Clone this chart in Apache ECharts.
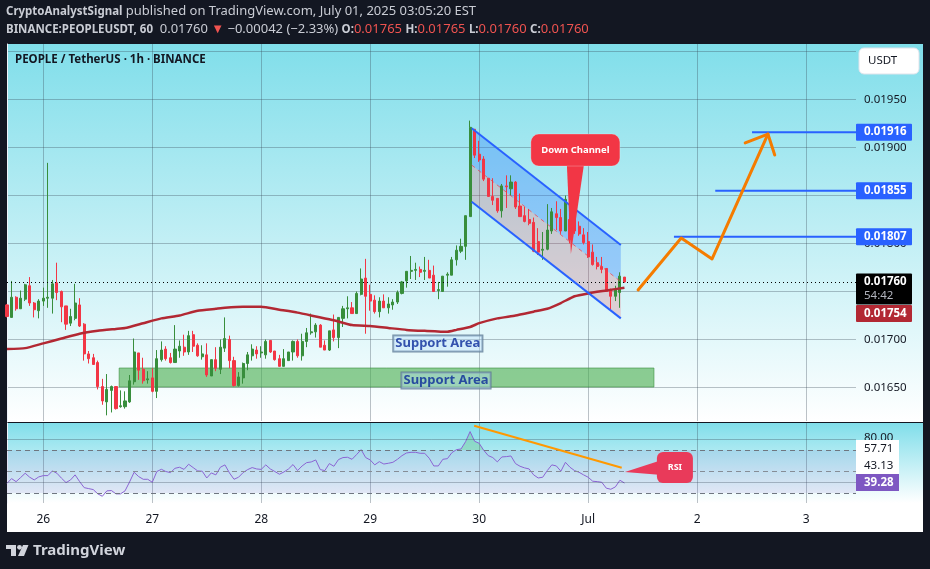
<!DOCTYPE html>
<html>
<head>
<meta charset="utf-8">
<title>PEOPLE / TetherUS</title>
<script src="https://cdn.jsdelivr.net/npm/echarts@6/dist/echarts.min.js"></script>
<style>
html, body { margin: 0; padding: 0; background: #131722; }
#main {
    width: 930px; height: 569px;
    background:
        linear-gradient(#80deea, #ffffff) 7px 44px / 916px 378px no-repeat,
        linear-gradient(#80deea, #ffffff) 7px 423px / 916px 80px no-repeat,
        linear-gradient(#ffffff, #ffffff) 7px 503px / 916px 29px no-repeat;
}
</style>
</head>
<body>
<div id="main"></div>
<script>
// prices are in units of 0.00001 (1760 = 0.01760), one value per hourly bar
var opens = [
    1736,1723,1744,1732,1742,1756,1738,1730,1740,1743,
    1743,1759,1750,1735,1717,1722,1736,1716,1685,1681,
    1676,1651,1635,1647,1651,1630,1630,1635,1656,1686,
    1669,1658,1660,1646,1679,1690,1681,1676,1688,1692,
    1687,1705,1694,1682,1684,1662,1679,1669,1691,1700,
    1678,1652,1660,1675,1683,1689,1686,1684,1699,1688,
    1680,1672,1678,1687,1698,1683,1698,1707,1708,1715,
    1694,1689,1710,1702,1722,1732,1733,1727,1747,1764,
    1747,1741,1729,1740,1733,1736,1739,1748,1761,1771,
    1772,1773,1771,1772,1767,1751,1750,1767,1767,1783,
    1792,1797,1828,1919,1893,1888,1868,1849,1847,1834,
    1860,1857,1864,1839,1829,1825,1822,1802,1793,1794,
    1813,1831,1827,1813,1825,1829,1818,1809,1802,1791,
    1780,1776,1774,1752,1745,1749,1765
];
var highs = [
    1737,1761,1745,1751,1758,1765,1739,1742,1754,1884,
    1762,1780,1751,1735,1732,1758,1743,1717,1688,1685,
    1678,1659,1664,1652,1651,1647,1646,1663,1701,1686,
    1681,1667,1670,1689,1698,1693,1686,1715,1699,1705,
    1709,1709,1696,1694,1696,1679,1692,1700,1723,1704,
    1682,1666,1676,1687,1695,1693,1693,1700,1699,1688,
    1684,1690,1687,1699,1700,1706,1712,1727,1717,1716,
    1699,1709,1726,1723,1735,1745,1739,1750,1774,1784,
    1757,1746,1744,1747,1744,1742,1751,1761,1771,1787,
    1780,1776,1786,1783,1777,1760,1766,1770,1786,1798,
    1805,1829,1928,1919,1907,1891,1868,1868,1847,1862,
    1871,1871,1865,1852,1838,1836,1827,1816,1812,1841,
    1837,1844,1836,1850,1832,1835,1823,1816,1812,1799,
    1786,1786,1774,1753,1756,1770,1765
];
var lows = [
    1723,1723,1730,1732,1740,1735,1723,1722,1735,1733,
    1727,1741,1718,1710,1714,1720,1713,1678,1675,1674,
    1648,1632,1621,1624,1627,1629,1628,1634,1653,1658,
    1654,1654,1645,1639,1677,1678,1675,1676,1681,1683,
    1684,1687,1682,1679,1661,1662,1667,1664,1687,1670,
    1651,1651,1654,1668,1678,1680,1681,1680,1686,1678,
    1672,1672,1678,1678,1681,1678,1692,1705,1702,1692,
    1689,1688,1698,1691,1713,1722,1727,1727,1746,1706,
    1730,1727,1723,1733,1727,1731,1737,1747,1754,1763,
    1762,1765,1762,1764,1750,1742,1750,1755,1767,1777,
    1790,1783,1828,1889,1885,1865,1849,1840,1832,1827,
    1837,1850,1836,1828,1822,1819,1791,1788,1783,1793,
    1810,1814,1810,1813,1800,1810,1808,1799,1785,1777,
    1773,1769,1750,1731,1740,1733,1759
];
var closes = [
    1724,1744,1732,1743,1757,1738,1731,1740,1743,1744,
    1758,1749,1734,1716,1724,1738,1714,1685,1680,1674,
    1651,1636,1648,1651,1628,1631,1636,1657,1687,1668,
    1657,1659,1646,1680,1689,1680,1676,1690,1693,1687,
    1704,1693,1683,1685,1663,1679,1670,1692,1701,1678,
    1652,1661,1675,1684,1690,1685,1687,1698,1687,1679,
    1672,1680,1687,1698,1683,1698,1707,1708,1715,1692,
    1689,1709,1702,1723,1732,1733,1727,1748,1763,1745,
    1740,1729,1740,1733,1737,1739,1749,1760,1771,1772,
    1773,1770,1772,1764,1750,1752,1766,1768,1783,1793,
    1797,1829,1921,1892,1887,1867,1849,1845,1834,1860,
    1859,1864,1838,1828,1823,1821,1792,1791,1794,1814,
    1833,1827,1813,1846,1804,1813,1810,1801,1786,1778,
    1776,1773,1750,1745,1752,1766,1760
];
var rsiValues = [
    39,43.4,40.6,44.4,48.4,44.7,42.2,45,46.2,46.2,
    50.6,48.4,43.8,39.7,42.2,46.9,40.6,35,34.1,33.2,
    29.2,27,32,32.3,29.2,29.2,32,40.3,49.3,45.3,
    42.8,42.8,40,50,52.1,50,49,53,54,52,
    56.8,53.7,50.6,50.3,44,48.7,46.9,54,56.2,48.7,
    42.8,44.7,49,51.8,53.7,52.4,52,56.2,52.4,50,
    47.5,49.6,52.4,56.5,50.9,55.2,58.3,58.9,60.8,51.8,
    50.9,57.4,54.9,61.1,63,63.3,61.4,65.8,70.4,63,
    60.8,56.2,59.2,57,57.7,58.6,61.4,64.8,67.3,67.9,
    67.9,67,67,62.4,55.2,55.2,61.4,62,67.6,70.4,
    71,77.8,87.2,78.2,76.3,69.8,64.8,63,59,63.6,
    63.9,64.5,57.4,54.9,53.4,52.4,46.9,44,44.7,50.9,
    56.2,55.2,50.3,58.6,54,50.9,49.3,46.9,44.7,41,
    40.6,40,34.5,33.5,35.7,41.9,39.3
];
// moving average read at these bars
var maBars = [0,4,8,12,16,20,24,26,30,34,38,42,46,48,52,56,60,64,68,72,76,80,84,88,92,97,99,102,104,108,112,116,119,122,125,128,132,136];
var maValues = [1690,1691,1696,1701,1706,1709,1711,1712,1717,1722,1725,1730,1732,1733,1734,1734,1731,1728,1724,1720,1715,1714,1712,1710,1709,1708,1710,1713,1717,1722,1725,1729,1732,1738,1745,1748,1751,1754];

var dayLabels = {8: '26', 32: '27', 56: '28', 80: '29', 104: '30', 128: 'Jul', 152: '2', 176: '3'};
var barCount = 188;

// drawings on the chart, bar position then price
var channelUpper = [[102.35, 1920], [135.2, 1798.4]];
var channelMiddle = [[102.35, 1881.7], [135.2, 1760.2]];
var channelLower = [[102.35, 1843.5], [135.2, 1722]];
var supportZone = [[24.7, 1670.3], [142.5, 1650.5]];
var levelPrices = [1916, 1855, 1807];
var levelStarts = [164.1, 156, 146.9];
var arrowPath = [[139, 1751.6], [148.5, 1805.7], [155.3, 1783.9], [167.6, 1914]];
var arrowHead = [[162.6, 1904.7], [167.6, 1914], [169.1, 1892.2]];
var supportLabels = [[94.9, 1695.8], [96.7, 1657.3]];
var channelTip = [124.2, 1789];
var rsiTip = [136.1, 49.6];
var rsiTrend = [[102.9, 92.7], [135.4, 53.6]];
var rsiOverbought = [[99, 70.4], [100, 71], [101, 77.8], [102, 87.2], [103, 78.2], [104, 76.3], [105, 70]];

// the MA tag sits stacked under the last price tag, not on its own price
var maTagPosition = 1727;

var categories = [];
for (var i = 0; i < barCount; i++) {
    categories.push(dayLabels[i] || '');
}
var candles = opens.map(function (o, i) {
    return [o, closes[i], lows[i], highs[i]];
});
var maLine = maBars.map(function (b, i) {
    return [b, maValues[i]];
});

var FONT = '"Noto Sans", sans-serif';
var GRID_COLOR = 'rgba(55,70,85,0.33)';
var BLUE = '#2962ff';
var ORANGE = '#f57c00';
var RED = '#f23645';

function hasLabel(index, value) {
    return value !== '';
}

function priceText(v) {
    return (v / 100000).toFixed(5);
}

function overlay(data, renderItem, z, grid) {
    return {
        type: 'custom',
        xAxisIndex: grid ? 3 : 2,
        yAxisIndex: grid ? 1 : 0,
        coordinateSystem: 'cartesian2d',
        silent: true,
        z: z,
        clip: false,
        data: data,
        renderItem: renderItem
    };
}

function priceTag(api, value, text, color, extra) {
    var c = api.coord([187, value]);
    var h = extra ? 31 : 17;
    var top = c[1] - 8.5;
    var kids = [
        {type: 'rect', shape: {x: c[0], y: top, width: 56, height: h, r: 1}, style: {fill: color}},
        {type: 'text', style: {text: text, x: c[0] + 8, y: c[1], fill: '#ffffff', font: 'bold 11.5px ' + FONT, align: 'left', verticalAlign: 'middle'}}
    ];
    if (extra) {
        kids.push({type: 'text', style: {text: extra, x: c[0] + 8, y: c[1] + 14, fill: '#b2b5be', font: '11.5px ' + FONT, align: 'left', verticalAlign: 'middle'}});
    }
    return kids;
}

var chart = echarts.init(document.getElementById('main'), null, {renderer: 'canvas'});

var series = [
    overlay([0], function (params, api) {
        var a = api.coord(supportZone[0]);
        var b = api.coord(supportZone[1]);
        return {type: 'rect', shape: {x: a[0], y: a[1], width: b[0] - a[0], height: b[1] - a[1]},
            style: {fill: 'rgba(76,175,80,0.62)', stroke: 'rgba(56,142,60,0.6)', lineWidth: 1}};
    }, 1),
    overlay([0], function (params, api) {
        var u0 = api.coord(channelUpper[0]), u1 = api.coord(channelUpper[1]);
        var m0 = api.coord(channelMiddle[0]), m1 = api.coord(channelMiddle[1]);
        var l0 = api.coord(channelLower[0]), l1 = api.coord(channelLower[1]);
        return {type: 'group', children: [
            {type: 'polygon', shape: {points: [u0, u1, m1, m0]}, style: {fill: 'rgba(41,121,255,0.33)'}},
            {type: 'polygon', shape: {points: [m0, m1, l1, l0]}, style: {fill: 'rgba(242,54,69,0.2)'}}
        ]};
    }, 1),
    {
        type: 'candlestick',
        name: 'PEOPLEUSDT',
        xAxisIndex: 0,
        yAxisIndex: 0,
        z: 3,
        barWidth: 2.6,
        data: candles,
        itemStyle: {color: '#388e3c', color0: RED, borderColor: '#388e3c', borderColor0: RED, borderWidth: 1},
        markLine: {
            silent: true,
            symbol: 'none',
            animation: false,
            label: {show: false},
            lineStyle: {color: '#000000', type: [1, 3], width: 1},
            data: [{yAxis: closes[closes.length - 1]}]
        }
    },
    {
        type: 'line',
        name: 'MA',
        xAxisIndex: 2,
        yAxisIndex: 0,
        z: 4,
        smooth: 0.15,
        showSymbol: false,
        silent: true,
        data: maLine,
        lineStyle: {color: '#b22833', width: 2.5}
    },
    overlay([0], function (params, api) {
        var u0 = api.coord(channelUpper[0]), u1 = api.coord(channelUpper[1]);
        var m0 = api.coord(channelMiddle[0]), m1 = api.coord(channelMiddle[1]);
        var l0 = api.coord(channelLower[0]), l1 = api.coord(channelLower[1]);
        return {type: 'group', children: [
            {type: 'line', shape: {x1: m0[0], y1: m0[1], x2: m1[0], y2: m1[1]}, style: {stroke: RED, lineWidth: 1, lineDash: [4, 4], opacity: 0.7}},
            {type: 'line', shape: {x1: u0[0], y1: u0[1], x2: u1[0], y2: u1[1]}, style: {stroke: BLUE, lineWidth: 2}},
            {type: 'line', shape: {x1: l0[0], y1: l0[1], x2: l1[0], y2: l1[1]}, style: {stroke: BLUE, lineWidth: 2}}
        ]};
    }, 5)
];

levelPrices.forEach(function (p, i) {
    series.push({
        type: 'line', xAxisIndex: 2, yAxisIndex: 0, z: 5, showSymbol: false, silent: true,
        data: [[levelStarts[i], p], [187, p]],
        lineStyle: {color: BLUE, width: 2}
    });
});

[arrowPath, arrowHead].forEach(function (path) {
    series.push({
        type: 'line', xAxisIndex: 2, yAxisIndex: 0, z: 6, showSymbol: false, silent: true,
        data: path,
        lineStyle: {color: ORANGE, width: 3, cap: 'round', join: 'round'}
    });
});

// support area captions
series.push({
    type: 'scatter', xAxisIndex: 2, yAxisIndex: 0, z: 7, symbolSize: 0, silent: true,
    data: supportLabels,
    label: {
        show: true,
        position: 'inside',
        formatter: 'Support Area',
        color: '#0a2a9a',
        fontFamily: FONT,
        fontSize: 13,
        fontWeight: 'bold',
        backgroundColor: 'rgba(187,222,251,0.45)',
        borderColor: '#5b7791',
        borderWidth: 1,
        padding: [2, 2, 1, 2]
    }
});

// red callout pointing down into the channel
series.push(overlay([0], function (params, api) {
    var t = api.coord(channelTip);
    return {type: 'group', children: [
        {type: 'polygon', shape: {points: [[t[0] - 4, t[1] - 89], [t[0] + 13, t[1] - 89], t]}, style: {fill: RED}},
        {type: 'rect', shape: {x: t[0] - 40, y: t[1] - 120, width: 89, height: 32, r: 8}, style: {fill: RED, stroke: 'rgba(255,255,255,0.25)', lineWidth: 1}},
        {type: 'text', style: {text: 'Down Channel', x: t[0] + 4.5, y: t[1] - 104, fill: '#ffffff', font: 'bold 9.5px ' + FONT, align: 'center', verticalAlign: 'middle'}}
    ]};
}, 8));

// price scale tags
series.push(overlay([0], function (params, api) {
    var kids = [];
    levelPrices.forEach(function (p) {
        kids = kids.concat(priceTag(api, p, priceText(p), BLUE));
    });
    kids = kids.concat(priceTag(api, maTagPosition, priceText(maValues[maValues.length - 1]), '#b22833'));
    var last = closes[closes.length - 1];
    kids = kids.concat(priceTag(api, last, priceText(last), '#000000', '54:42'));
    return {type: 'group', children: kids};
}, 9));

// RSI pane
series.push({
    type: 'line',
    name: 'RSI',
    xAxisIndex: 1,
    yAxisIndex: 1,
    z: 4,
    showSymbol: false,
    silent: true,
    data: rsiValues,
    lineStyle: {color: '#8a63d2', width: 1},
    markArea: {
        silent: true,
        animation: false,
        itemStyle: {color: 'rgba(126,87,194,0.12)'},
        data: [[{yAxis: 70}, {yAxis: 30}]]
    },
    markLine: {
        silent: true,
        symbol: 'none',
        animation: false,
        label: {show: false},
        data: [
            {yAxis: 70, lineStyle: {color: '#6f7680', type: [5, 4], width: 1}},
            {yAxis: 50, lineStyle: {color: '#868d96', type: [5, 4], width: 1}},
            {yAxis: 30, lineStyle: {color: '#6f7680', type: [5, 4], width: 1}},
            {yAxis: 80, lineStyle: {color: GRID_COLOR, type: 'solid', width: 1}},
            {yAxis: 40, lineStyle: {color: GRID_COLOR, type: 'solid', width: 1}}
        ]
    }
});
series.push({
    type: 'line', xAxisIndex: 3, yAxisIndex: 1, z: 3, showSymbol: false, silent: true,
    data: rsiOverbought,
    lineStyle: {width: 0},
    areaStyle: {origin: 70, color: 'rgba(76,175,80,0.35)'}
});
series.push({
    type: 'line', xAxisIndex: 3, yAxisIndex: 1, z: 5, showSymbol: false, silent: true,
    data: rsiTrend,
    lineStyle: {color: '#ff9800', width: 2}
});
series.push(overlay([0], function (params, api) {
    var t = api.coord(rsiTip);
    return {type: 'group', children: [
        {type: 'polygon', shape: {points: [t, [t[0] + 37, t[1] - 12], [t[0] + 37, t[1] + 3]]}, style: {fill: '#e93a5a'}},
        {type: 'rect', shape: {x: t[0] + 32, y: t[1] - 20, width: 36, height: 31, r: 6}, style: {fill: '#e93a5a'}},
        {type: 'text', style: {text: 'RSI', x: t[0] + 50, y: t[1] - 5, fill: '#ffffff', font: 'bold 9px ' + FONT, align: 'center', verticalAlign: 'middle'}}
    ]};
}, 8, true));

var option = {
    animation: false,
    backgroundColor: 'transparent',
    textStyle: {fontFamily: FONT},
    title: [
        {
            left: 6, top: 5, padding: 0,
            text: '{b|CryptoAnalystSignal} published on TradingView.com, July 01, 2025 03:05:20 EST',
            textStyle: {
                color: '#c9ccd4', fontFamily: FONT, fontSize: 13, fontWeight: 'normal',
                rich: {b: {color: '#c9ccd4', fontFamily: FONT, fontSize: 11.5, fontWeight: 'bold'}}
            }
        },
        {
            left: 6, top: 23, padding: 0,
            text: '{b|BINANCE:PEOPLEUSDT, 60}  0.01760 {r|▼} −0.00042 (−2.33%) {b|O:}{r|0.01765} {b|H:}{r|0.01765} {b|L:}{r|0.01760} {b|C:}{r|0.01760}',
            textStyle: {
                color: '#c9ccd4', fontFamily: FONT, fontSize: 13, fontWeight: 'normal',
                rich: {
                    b: {color: '#c9ccd4', fontFamily: FONT, fontSize: 11.5, fontWeight: 'bold'},
                    r: {color: '#ef5350', fontFamily: FONT, fontSize: 13}
                }
            }
        },
        {
            left: 15, top: 54, padding: 0,
            text: 'PEOPLE / TetherUS · 1h · BINANCE',
            textStyle: {color: '#131722', fontFamily: FONT, fontSize: 11.5, fontWeight: 'bold'}
        }
    ],
    grid: [
        {left: 7, right: 74, top: 44, height: 377},
        {left: 7, right: 74, top: 423, height: 80}
    ],
    xAxis: [
        {
            type: 'category', gridIndex: 0, data: categories, boundaryGap: false,
            axisLine: {show: false}, axisTick: {show: false}, axisLabel: {show: false},
            splitLine: {show: true, interval: hasLabel, lineStyle: {color: GRID_COLOR, width: 1}}
        },
        {
            type: 'category', gridIndex: 1, data: categories, boundaryGap: false,
            axisLine: {show: false}, axisTick: {show: false},
            axisLabel: {show: true, interval: 0, margin: 11, color: '#131722', fontFamily: FONT, fontSize: 12, hideOverlap: false},
            splitLine: {show: true, interval: hasLabel, lineStyle: {color: GRID_COLOR, width: 1}}
        },
        {type: 'value', gridIndex: 0, min: 0, max: 187, show: false, splitLine: {show: false}},
        {type: 'value', gridIndex: 1, min: 0, max: 187, show: false, splitLine: {show: false}}
    ],
    yAxis: [
        {
            type: 'value', gridIndex: 0, position: 'right', min: 1615.1, max: 2007.8, splitNumber: 8,
            axisLine: {show: true, lineStyle: {color: '#f0f3fa', width: 1}},
            axisTick: {show: false},
            axisLabel: {
                margin: 8, color: '#131722', fontFamily: FONT, fontSize: 11.5, showMinLabel: false, showMaxLabel: false,
                // the top tick sits behind the USDT button
                formatter: function (v) { return v >= 2000 ? '' : priceText(v); }
            },
            splitLine: {show: true, showMinLine: false, showMaxLine: false, lineStyle: {color: GRID_COLOR, width: 1}}
        },
        {
            type: 'value', gridIndex: 1, position: 'right', min: 20.7, max: 95.2,
            axisLine: {show: true, lineStyle: {color: '#f0f3fa', width: 1}},
            axisTick: {show: false}, axisLabel: {show: false}, splitLine: {show: false}
        }
    ],
    series: series,
    graphic: {
        elements: [
            // USDT button
            {type: 'rect', z: 50, shape: {x: 859, y: 48, width: 60, height: 26, r: 5}, style: {fill: '#ffffff', stroke: '#e0e3eb', lineWidth: 1}},
            {type: 'text', z: 51, style: {text: 'USDT', x: 868, y: 61, fill: '#131722', font: '11.5px ' + FONT, verticalAlign: 'middle'}},
            // RSI scale labels
            {type: 'text', z: 50, style: {text: '80.00', x: 864, y: 438, fill: '#131722', font: '11.5px ' + FONT, verticalAlign: 'middle'}},
            {type: 'rect', z: 51, shape: {x: 856, y: 440, width: 43, height: 34}, style: {fill: '#ffffff'}},
            {type: 'text', z: 52, style: {text: '57.71', x: 864, y: 449, fill: '#131722', font: '11.5px ' + FONT, verticalAlign: 'middle'}},
            {type: 'text', z: 52, style: {text: '43.13', x: 864, y: 466, fill: '#131722', font: '11.5px ' + FONT, verticalAlign: 'middle'}},
            {type: 'rect', z: 51, shape: {x: 856, y: 474, width: 43, height: 17}, style: {fill: '#7e57c2'}},
            {type: 'text', z: 52, style: {text: '39.28', x: 864, y: 482.5, fill: '#ffffff', font: 'bold 11.5px ' + FONT, verticalAlign: 'middle'}},
            // footer logo
            {type: 'polygon', z: 50, shape: {points: [[6, 545], [16, 545], [16, 556], [11, 556], [11, 549], [6, 549]]}, style: {fill: '#d1d4dc'}},
            {type: 'circle', z: 50, shape: {cx: 19.5, cy: 547.3, r: 2.4}, style: {fill: '#d1d4dc'}},
            {type: 'polygon', z: 50, shape: {points: [[23, 545], [28.5, 545], [24, 556], [18, 556]]}, style: {fill: '#d1d4dc'}},
            {type: 'text', z: 50, style: {text: 'TradingView', x: 33, y: 550.5, fill: '#d1d4dc', font: 'bold 15px ' + FONT, verticalAlign: 'middle'}}
        ]
    }
};

chart.setOption(option);
</script>
</body>
</html>
